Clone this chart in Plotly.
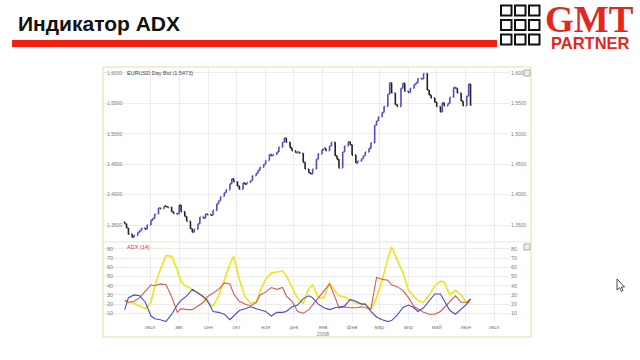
import plotly.graph_objects as go
import pandas as pd

W, H = 640, 360

# ---------------- data ----------------
price_close = [
    1.352, 1.345, 1.335, 1.330, 1.333, 1.338, 1.341, 1.345, 1.343, 1.350,
    1.358, 1.361, 1.368, 1.378, 1.377, 1.381, 1.380, 1.379, 1.372, 1.369,
    1.368, 1.383, 1.372, 1.364, 1.356, 1.344, 1.338, 1.343, 1.352, 1.363,
    1.361, 1.368, 1.367, 1.366, 1.374, 1.385, 1.390, 1.397, 1.403, 1.408,
    1.418, 1.426, 1.421, 1.414, 1.409, 1.419, 1.417, 1.420, 1.423, 1.431,
    1.435, 1.440, 1.445, 1.450, 1.456, 1.466, 1.464, 1.466, 1.470, 1.478,
    1.486, 1.493, 1.486, 1.477, 1.472, 1.469, 1.470, 1.468, 1.453, 1.442,
    1.436, 1.434, 1.442, 1.458, 1.467, 1.474, 1.476, 1.472, 1.480, 1.486,
    1.464, 1.458, 1.444, 1.470, 1.480, 1.487, 1.482, 1.465, 1.452, 1.455,
    1.459, 1.464, 1.470, 1.476, 1.485, 1.514, 1.521, 1.528, 1.535, 1.545,
    1.565, 1.584, 1.567, 1.548, 1.545, 1.575, 1.583, 1.570, 1.568, 1.575,
    1.581, 1.584, 1.591, 1.590, 1.599, 1.572, 1.564, 1.559, 1.552, 1.545,
    1.536, 1.551, 1.546, 1.550, 1.560, 1.576, 1.575, 1.567, 1.554, 1.546,
    1.562, 1.582, 1.547,
]
first_open = 1.355

adx_line = [
    24, 22, 21, 18, 15, 22, 40, 58, 73, 72,
    57, 44, 39, 36, 32, 27, 22, 18, 29, 46,
    64, 72, 47, 28, 21, 22, 34, 47, 54, 55,
    56, 51, 38, 26, 21, 37, 41, 27, 27, 43,
    34, 29, 28, 24, 21, 20, 20, 14, 27, 46,
    70, 82, 68, 54, 35, 28, 24, 22, 30, 40,
    45, 44, 30, 35, 30, 21, 22,
]
di_plus = [
    24, 22, 23, 27, 34, 41, 40, 42, 41, 28,
    11, 15, 14, 14, 18, 22, 28, 32, 36, 43,
    42, 31, 23, 20, 18, 22, 30, 33, 38, 36,
    38, 29, 23, 12, 10, 14, 19, 26, 34, 42,
    27, 16, 17, 16, 16, 17, 16, 15, 49, 47,
    46, 41, 39, 35, 27, 17, 15, 11, 9, 9,
    12, 16, 23, 29, 22, 22, 25,
]
di_minus = [
    14, 27, 30, 29, 22, 7, 4, 3, 1, 9,
    19, 24, 29, 36, 32, 28, 24, 12, 11, 9,
    3, 7, 13, 15, 17, 15, 14, 12, 7, 11,
    11, 12, 17, 19, 26, 29, 27, 20, 16, 14,
    16, 17, 18, 25, 23, 20, 20, 12, 6, 3,
    1, 2, 8, 16, 19, 16, 12, 16, 24, 31,
    31, 24, 13, 9, 15, 20, 26,
]

month_ticks = ["2007-07-01", "2007-08-01", "2007-09-01", "2007-10-01", "2007-11-01",
               "2007-12-01", "2008-01-01", "2008-02-01", "2008-03-01", "2008-04-01",
               "2008-05-01", "2008-06-01", "2008-07-01"]
month_labels = ["июл", "авг", "сен", "окт", "ноя", "дек", "янв<br>2008", "фев",
                "мар", "апр", "май", "июн", "июл"]
price_ticks = [1.35, 1.40, 1.45, 1.50, 1.55, 1.60]
price_labels = ["1,3500", "1,4000", "1,4500", "1,5000", "1,5500", "1,6000"]
adx_ticks = [10, 20, 30, 40, 50, 60, 70, 80]
adx_labels = ["10", "20", "30", "40", "50", "60", "70", "80"]

# ---------------- derived ----------------
price_dates = pd.bdate_range("2007-06-04", periods=len(price_close), freq="2B")
ind_dates = price_dates[::2][:len(adx_line)]
opens = [first_open] + price_close[:-1]
highs = [max(o, c) for o, c in zip(opens, price_close)]
lows = [min(o, c) for o, c in zip(opens, price_close)]


def fx(x):
    return x / W


def fy(y):
    return 1 - y / H


fig = go.Figure()

fig.add_trace(go.Ohlc(
    x=price_dates, open=opens, high=highs, low=lows, close=price_close,
    increasing=dict(line=dict(color="#4d4dc6", width=1.6)),
    decreasing=dict(line=dict(color="#222222", width=1.6)),
    tickwidth=0.5, xaxis="x", yaxis="y", showlegend=False, hoverinfo="skip"))
# helper trace so that the right-hand price axis is drawn
fig.add_trace(go.Scatter(x=[price_dates[0]], y=[price_close[0]], mode="markers",
                         marker=dict(opacity=0), xaxis="x", yaxis="y3",
                         showlegend=False, hoverinfo="skip"))

fig.add_trace(go.Scatter(x=ind_dates, y=adx_line, mode="lines",
                         line=dict(color="#ece51c", width=1.6),
                         xaxis="x2", yaxis="y2", showlegend=False, hoverinfo="skip"))
fig.add_trace(go.Scatter(x=ind_dates, y=di_plus, mode="lines",
                         line=dict(color="#d45a5a", width=1.1),
                         xaxis="x2", yaxis="y2", showlegend=False, hoverinfo="skip"))
fig.add_trace(go.Scatter(x=ind_dates, y=di_minus, mode="lines",
                         line=dict(color="#4a4ac4", width=1.1),
                         xaxis="x2", yaxis="y2", showlegend=False, hoverinfo="skip"))
fig.add_trace(go.Scatter(x=[ind_dates[0]], y=[adx_line[0]], mode="markers",
                         marker=dict(opacity=0), xaxis="x2", yaxis="y4",
                         showlegend=False, hoverinfo="skip"))

xr = ["2007-05-13", "2008-07-18"]
grid = "#ececec"
tickf = dict(family="Liberation Sans, Arial", size=5, color="#808080")
tickx = dict(family="Liberation Sans, Arial", size=5.5, color="#808080")

fig.update_layout(
    width=W, height=H,
    margin=dict(l=0, r=0, t=0, b=0),
    paper_bgcolor="white", plot_bgcolor="white",
    hovermode=False,
    xaxis=dict(domain=[fx(104), fx(510)], anchor="y", range=xr, type="date",
               tickvals=month_ticks, showticklabels=False, showgrid=True,
               gridcolor=grid, zeroline=False, rangeslider=dict(visible=False),
               showline=False),
    yaxis=dict(domain=[fy(241), fy(68)], anchor="x", range=[1.3237, 1.6082],
               tickvals=price_ticks, ticktext=price_labels, ticklabelposition="inside",
               tickfont=tickf, showgrid=True, gridcolor=grid, zeroline=False,
               ticks=""),
    yaxis3=dict(overlaying="y", side="right", anchor="x", range=[1.3237, 1.6082],
                tickvals=price_ticks, ticktext=price_labels, tickfont=tickf,
                showgrid=False, zeroline=False, ticks=""),
    xaxis2=dict(domain=[fx(104), fx(510)], anchor="y2", range=xr, type="date",
                tickvals=month_ticks, ticktext=month_labels, tickfont=tickx,
                showgrid=True, gridcolor=grid, zeroline=False, ticks="",
                showline=False),
    yaxis2=dict(domain=[fy(322), fy(243)], anchor="x2", range=[0.5, 86.5],
                tickvals=adx_ticks, ticktext=adx_labels, ticklabelposition="inside",
                tickfont=tickx, showgrid=True, gridcolor=grid, zeroline=False,
                ticks=""),
    yaxis4=dict(overlaying="y2", side="right", anchor="x2", range=[0.5, 86.5],
                tickvals=adx_ticks, ticktext=adx_labels, tickfont=tickx,
                showgrid=False, zeroline=False, ticks=""),
)

shapes = []


def rect(x0, y0, x1, y1, **kw):
    shapes.append(dict(type="rect", xref="paper", yref="paper",
                       x0=fx(x0), x1=fx(x1), y0=fy(y1), y1=fy(y0), **kw))


# red bar under the title
rect(12, 40, 497, 47, line=dict(width=0), fillcolor="#f2200e")
# logo squares
for col in range(3):
    for row in range(3):
        x0 = 501 + col * 14
        y0 = 5.5 + row * 14.5
        rect(x0, y0, x0 + 10.5, y0 + 10, line=dict(color="#111111", width=2),
             fillcolor="white")
# chart frame
rect(103, 67, 531, 337, line=dict(color="#eadcae", width=1))
shapes.append(dict(type="line", xref="paper", yref="paper", x0=fx(103), x1=fx(531),
                   y0=fy(242), y1=fy(242), line=dict(color="#ece6cc", width=1)))
# small panel icons
rect(524, 70, 530, 76, line=dict(color="#aaaaaa", width=1), fillcolor="#eeeeee")
rect(524, 244, 530, 250, line=dict(color="#aaaaaa", width=1), fillcolor="#eeeeee")

# mouse pointer seen in the slide
cur = [(617, 279), (617, 290), (619.6, 287.6), (621.3, 291.4), (623, 290.6),
       (621.4, 287), (624.6, 287)]
path = "M " + " L ".join(f"{fx(a):.5f},{fy(b):.5f}" for a, b in cur) + " Z"
shapes.append(dict(type="path", xref="paper", yref="paper", path=path,
                   fillcolor="white", line=dict(color="#222222", width=0.8)))

annotations = [
    dict(text="<b>Индикатор ADX</b>", x=fx(16), y=fy(24), xref="paper", yref="paper",
         xanchor="left", yanchor="middle", showarrow=False,
         font=dict(family="Liberation Sans, Arial", size=21, color="#111111")),
    dict(text="<b>GMT</b>", x=fx(589), y=fy(18.5), xref="paper", yref="paper",
         xanchor="center", yanchor="middle", showarrow=False, height=30,
         font=dict(family="Liberation Serif, Times New Roman", size=37, color="#e3261e")),
    dict(text="<b>PARTNER</b>", x=fx(590), y=fy(42.5), xref="paper", yref="paper",
         xanchor="center", yanchor="middle", showarrow=False, height=14,
         font=dict(family="Liberation Sans, Arial", size=16.5, color="#e3261e")),
    dict(text="EURUSD Day Bid (1.5473)", x=fx(125), y=fy(73), xref="paper", yref="paper",
         xanchor="left", yanchor="middle", showarrow=False,
         font=dict(family="Liberation Sans, Arial", size=5.5, color="#444444")),
    dict(text="ADX (14)", x=fx(125), y=fy(247), xref="paper", yref="paper",
         xanchor="left", yanchor="middle", showarrow=False,
         font=dict(family="Liberation Sans, Arial", size=5.5, color="#d03a3a")),
]

fig.update_layout(shapes=shapes, annotations=annotations)
fig.write_html("out.html", config={"displayModeBar": False},
               post_script="document.body.style.margin='0';")
